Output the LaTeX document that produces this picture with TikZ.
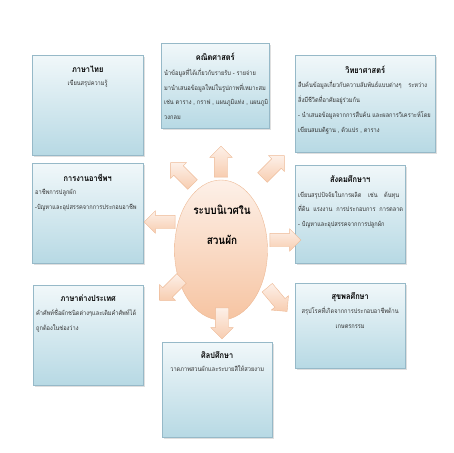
\documentclass[tikz,border=0pt]{standalone}
\usepackage{fontspec}
\newfontfamily\thai[Script=Thai,FakeStretch=0.87]{Loma}
\usetikzlibrary{positioning,shapes.arrows,shapes.geometric,shadows}
\definecolor{boxblue}{HTML}{B7D9E4}
\definecolor{boxline}{HTML}{96B9C8}
\definecolor{peach}{HTML}{F6C4A2}
\definecolor{peachline}{HTML}{EDB995}
\definecolor{peachlight}{HTML}{FDF0E8}
\definecolor{bodygray}{HTML}{333333}
\begin{document}
\begin{tikzpicture}[x=1pt,y=-1pt,
    subject/.style={draw=boxline,top color=boxblue!20,middle color=white,bottom color=boxblue,anchor=north west,inner sep=0pt,
      drop shadow={opacity=0.25,shadow xshift=1.5pt,shadow yshift=-2pt}},
    heading/.style={font=\thai\bfseries\fontsize{8.5}{10}\selectfont,inner sep=0pt,anchor=center},
    bodytext/.style={font=\thai\fontsize{6.5}{14.5}\selectfont,text=bodygray,inner sep=0pt},
    ray/.style={single arrow,draw=peachline,top color=peachlight,bottom color=peach!85,minimum height=31pt,
      inner xsep=0pt,inner ysep=6.5pt,single arrow head extend=4.5pt}]
  \useasboundingbox (0,0) rectangle (453,453);
  % subject boxes
  \node[subject,minimum width=111pt,minimum height=100pt] (thai) at (32,55) {};
  \node[subject,minimum width=108pt,minimum height=85pt] (math) at (161,43) {};
  \node[subject,minimum width=140pt,minimum height=97pt] (sci) at (295,55) {};
  \node[subject,minimum width=111pt,minimum height=100pt] (career) at (32,163) {};
  \node[subject,minimum width=110pt,minimum height=98pt] (social) at (295,165) {};
  \node[subject,minimum width=110pt,minimum height=100pt] (foreign) at (33,285) {};
  \node[subject,minimum width=110pt,minimum height=85pt] (health) at (295,283) {};
  \node[subject,minimum width=110pt,minimum height=95pt] (art) at (162,342) {};
  % headings
  \node[heading,below=14.5pt of thai.north,anchor=center] (thaihead) {ภาษาไทย};
  \node[heading,below=14pt of math.north,anchor=center] (mathhead) {คณิตศาสตร์};
  \node[heading,below=14.5pt of sci.north,anchor=center] (scihead) {วิทยาศาสตร์};
  \node[heading,below=14.5pt of career.north,anchor=center] (careerhead) {การงานอาชีพฯ};
  \node[heading,below=14.5pt of social.north,anchor=center] (socialhead) {สังคมศึกษาฯ};
  \node[heading,below=13.5pt of foreign.north,anchor=center] (foreignhead) {ภาษาต่างประเทศ};
  \node[heading,below=14.5pt of health.north,anchor=center] (healthhead) {สุขพลศึกษา};
  \node[heading,below=13.5pt of art.north,anchor=center] (arthead) {ศิลปศึกษา};
  % texts
  \node[bodytext,below=25pt of thai.north] (thaibody) {เขียนสรุปความรู้};
  \node[bodytext,align=left,below right=26pt and 3pt of math.north west] (mathbody)
    {นำข้อมูลที่ได้เกี่ยวกับรายรับ - รายจ่าย\\มานำเสนอข้อมูลใหม่ในรูปภาพที่เหมาะสม\\เช่น ตาราง , กราฟ , แผนภูมิแท่ง , แผนภูมิ\\วงกลม};
  \node[bodytext,align=left,font=\thai\fontsize{6.5}{15}\selectfont,below right=26pt and 3pt of sci.north west] (scibody)
    {สืบค้นข้อมูลเกี่ยวกับความสัมพันธ์แบบต่างๆ\quad ระหว่าง\\สิ่งมีชีวิตที่อาศัยอยู่ร่วมกัน\\- นำเสนอข้อมูลจากการสืบค้น และผลการวิเคราะห์โดย\\เขียนสมมติฐาน , ตัวแปร , ตาราง};
  \node[bodytext,align=left,below right=26pt and 3pt of career.north west] (careerbody)
    {อาชีพการปลูกผัก\\-ปัญหาและอุปสรรคจากการประกอบอาชีพ};
  \node[bodytext,align=left,below right=26pt and 3pt of social.north west] (socialbody)
    {เขียนสรุปปัจจัยในการผลิต\quad เช่น\quad ต้นทุน\\ที่ดิน\ \ แรงงาน\ \ การประกอบการ\ \ การตลาด\\- ปัญหาและอุปสรรคจากการปลูกผัก};
  \node[bodytext,align=left,below right=24pt and 3pt of foreign.north west] (foreignbody)
    {คำศัพท์ชื่อผักชนิดต่างๆและเติมคำศัพท์ได้\\ถูกต้องในช่องว่าง};
  \node[bodytext,align=center,below=24pt of health.north] (healthbody)
    {สรุปโรคที่เกิดจากการประกอบอาชีพด้าน\\เกษตรกรรม};
  \node[bodytext,below=23pt of art.north] (artbody) {วาดภาพสวนผักและระบายสีให้สวยงาม};
  % centre and arrows
  \node[ellipse,draw=peachline,top color=peachlight,bottom color=peach,minimum width=93pt,minimum height=140pt] (hub) at (221,250) {};
  \node[font=\thai\bfseries\fontsize{11.5}{30}\selectfont,align=center] (hublabel) at (222,225) {ระบบนิเวศใน\\สวนผัก};
  \node[ray,rotate=90] (rayup) at (221,165) {};
  \node[ray,rotate=45] (rayne) at (271,169) {};
  \node[ray] (rayright) at (282,240) {};
  \node[ray,rotate=-50] (rayse) at (275,297) {};
  \node[ray,rotate=-90] (raydown) at (222,320) {};
  \node[ray,rotate=-135] (raysw) at (173,287) {};
  \node[ray,rotate=180] (rayleft) at (163,222) {};
  \node[ray,rotate=135] (raynw) at (184,176) {};
\end{tikzpicture}
\end{document}
